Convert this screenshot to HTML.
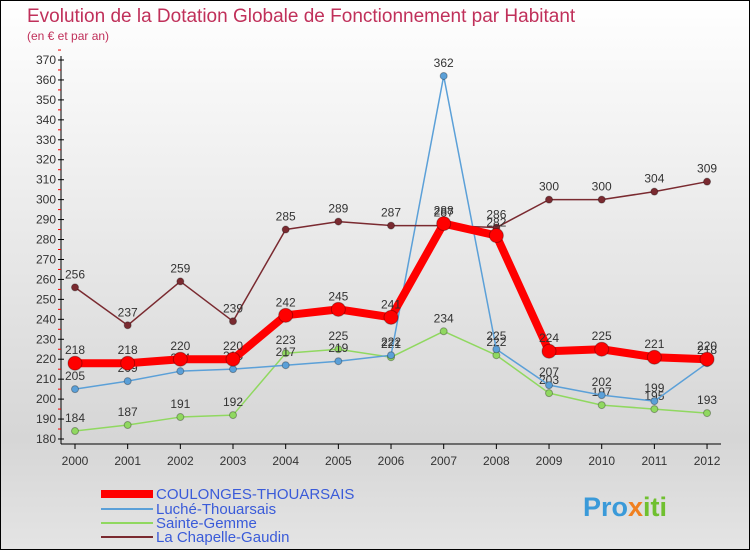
<!DOCTYPE html>
<html><head><meta charset="utf-8"><style>
body{margin:0;width:750px;height:550px;overflow:hidden;font-family:"Liberation Sans",sans-serif}
#wrap{position:relative;width:748px;height:548px;border:1px solid #000;background:linear-gradient(#fff,#d6d6d6 80%,#e4e4e4)}
</style></head><body>
<div id="wrap">
<svg id="chart" width="748" height="548" font-family="Liberation Sans, sans-serif">
<text x="26" y="21" font-size="19" fill="#c0305a">Evolution de la Dotation Globale de Fonctionnement par Habitant</text>
<text x="26" y="39" font-size="12" fill="#c0305a">(en € et par an)</text>
<g id="axes"></g><g id="series"></g>
<g>
<rect x="100" y="489" width="52" height="8" fill="#f00"/>
<text x="155" y="498" font-size="15" fill="#3a5bd9">COULONGES-THOUARSAIS</text>
<rect x="100" y="507" width="52" height="2" fill="#5ba0d8"/>
<text x="155" y="513" font-size="15" fill="#3a5bd9">Luché-Thouarsais</text>
<rect x="100" y="521" width="52" height="2" fill="#90d860"/>
<text x="155" y="527" font-size="15" fill="#3a5bd9">Sainte-Gemme</text>
<rect x="100" y="535" width="52" height="2" fill="#7a2a30"/>
<text x="155" y="541" font-size="15" fill="#3a5bd9">La Chapelle-Gaudin</text>
</g>
<text x="582" y="515" font-size="27" font-weight="bold" fill="#3a9ad9">Pro<tspan fill="#f08020">x</tspan><tspan fill="#70c030">iti</tspan></text>
</svg></div>
<script>
const years=[2000,2001,2002,2003,2004,2005,2006,2007,2008,2009,2010,2011,2012];
const coulonges=[218,218,220,220,242,245,241,288,282,224,225,221,220];
const luche=[205,209,214,215,217,219,222,362,225,207,202,199,218];
const sainteGemme=[184,187,191,192,223,225,221,234,222,203,197,195,193];
const chapelle=[256,237,259,239,285,289,287,287,286,300,300,304,309];
const yTicks=[180,190,200,210,220,230,240,250,260,270,280,290,300,310,320,330,340,350,360,370];
const NS="http://www.w3.org/2000/svg";
const X=i=>74+i*52.67;
const Y=v=>438-(v-180)*(438-59)/190;
function mk(tag,attrs,parent){const e=document.createElementNS(NS,tag);for(const k in attrs)e.setAttribute(k,attrs[k]);parent.appendChild(e);return e;}
const ax=document.getElementById('axes');
let a=mk('line',{x1:60,y1:55,x2:60,y2:443,stroke:'#000'},ax);


a=mk('line',{x1:60,y1:443,x2:720,y2:443,stroke:'#000'},ax);


yTicks.forEach(v=>{
  mk('line',{x1:57,y1:Y(v),x2:63,y2:Y(v),stroke:'#000'},ax);
  mk('line',{x1:57,y1:Y(v+5),x2:60,y2:Y(v+5),stroke:'#e00'},ax);
  const t=mk('text',{x:55,y:Y(v)+4,'font-size':12,fill:'#333','text-anchor':'end'},ax);
  t.textContent=v;
  
  
});
years.forEach((yr,i)=>{
  mk('line',{x1:X(i),y1:443,x2:X(i),y2:448,stroke:'#000'},ax);
  const t=mk('text',{x:X(i),y:464,'font-size':12,fill:'#333','text-anchor':'middle'},ax);
  t.textContent=yr;
  
  
});
const sg=document.getElementById('series');
function series(data,color,w,r,name){
  const g=mk('g',{},sg);
  
  
  mk('polyline',{points:data.map((v,i)=>X(i)+','+Y(v)).join(' '),fill:'none',stroke:color,'stroke-width':w,'stroke-linejoin':'round'},g);
  data.forEach((v,i)=>{
    const c=mk('circle',{cx:X(i),cy:Y(v),r:r,fill:color,stroke:'rgba(0,0,0,0.3)'},g);
    
    
    const t=mk('text',{x:X(i),y:Y(v)-9,'font-size':12,fill:'#333','text-anchor':'middle'},g);
    t.textContent=v;
    
    
  });
}
series(sainteGemme,'#90d860',1.5,3.5,'sainte-gemme-series');
series(luche,'#5ba0d8',1.5,3.5,'luche-series');
series(chapelle,'#7a2a30',1.5,3.5,'la-chapelle-series');
series(coulonges,'#f00',8,7,'coulonges-series');
</script>
</body></html>
